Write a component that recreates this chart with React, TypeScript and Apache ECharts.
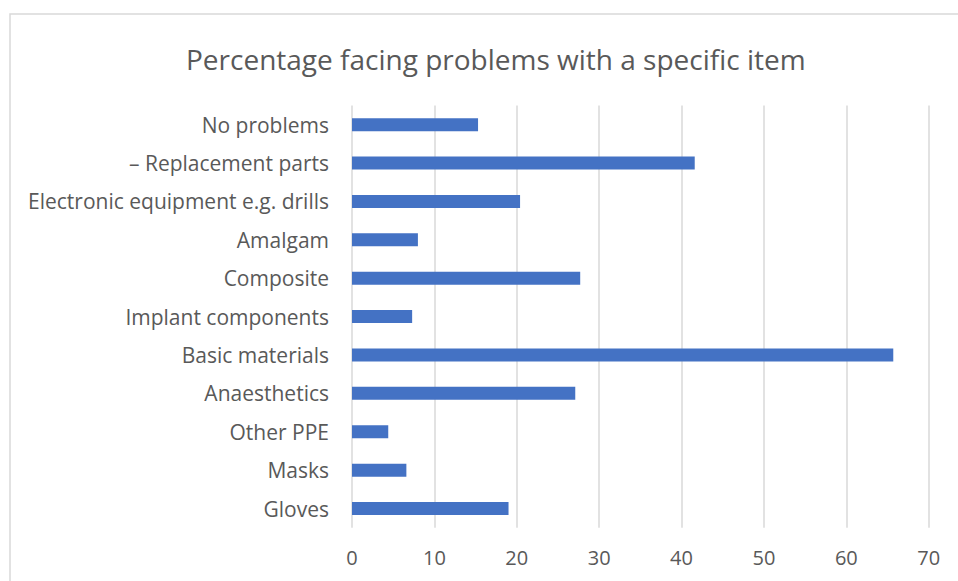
import React, { useEffect, useRef } from "react";
import * as echarts from "echarts";

const categories = [
  "No problems",
  "– Replacement parts",
  "Electronic equipment e.g. drills",
  "Amalgam",
  "Composite",
  "Implant components",
  "Basic materials",
  "Anaesthetics",
  "Other PPE",
  "Masks",
  "Gloves",
];

const percentages = [15.3, 41.6, 20.4, 8.0, 27.7, 7.3, 65.7, 27.1, 4.4, 6.6, 19.0];

const titleText = "Percentage facing problems with a specific item";

const FONT = "'Open Sans', sans-serif";
const TEXT_GRAY = "#595959";
const GRID_GRAY = "#D9D9D9";

export default function App() {
  const ref = useRef<HTMLDivElement>(null);

  useEffect(() => {
    if (!ref.current) return;
    const chart = echarts.init(ref.current, undefined, { renderer: "svg" });
    chart.setOption({
      animation: false,
      backgroundColor: "#ffffff",
      title: {
        text: titleText,
        left: 181,
        top: 40,
        textStyle: {
          fontFamily: FONT,
          fontSize: 28,
          fontWeight: "normal",
          color: TEXT_GRAY,
        },
      },
      graphic: [
        {
          type: "rect",
          shape: { x: 10, y: 14, width: 980, height: 620 },
          style: { fill: "none", stroke: "#D9D9D9", lineWidth: 1.5 },
          silent: true,
        },
      ],
      grid: { left: 352, right: 29.3, top: 105.5, bottom: 53.3, containLabel: false },
      xAxis: {
        type: "value",
        min: 0,
        max: 70,
        interval: 10,
        axisLine: { show: false },
        axisTick: { show: false },
        splitLine: { show: true, lineStyle: { color: GRID_GRAY, width: 1.5 } },
        axisLabel: {
          margin: 20,
          fontFamily: FONT,
          fontSize: 20,
          color: TEXT_GRAY,
        },
      },
      yAxis: {
        type: "category",
        inverse: true,
        data: categories,
        axisLine: { show: false },
        axisTick: { show: false },
        axisLabel: {
          margin: 23,
          fontFamily: FONT,
          fontSize: 21,
          color: TEXT_GRAY,
        },
      },
      series: [
        {
          type: "bar",
          data: percentages,
          barWidth: 13,
          itemStyle: { color: "#4472C4" },
        },
      ],
    });
    return () => chart.dispose();
  }, []);

  return (
    <div
      ref={ref}
      style={{ position: "fixed", left: 0, top: 0, width: 958, height: 581 }}
    />
  );
}
